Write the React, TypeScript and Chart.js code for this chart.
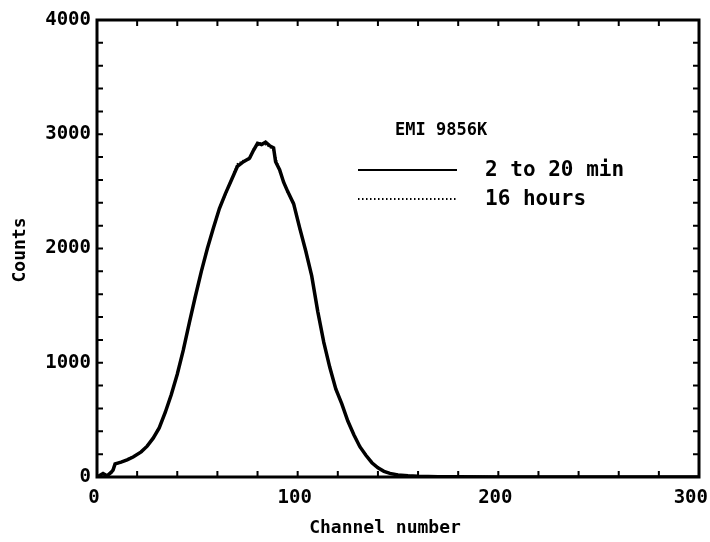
import React, { useEffect, useRef } from "react";
import { Chart, registerables } from "chart.js";

Chart.register(...registerables);

const channels = [0, 3, 5, 7, 8, 9, 12, 15, 18, 22, 25, 28, 31, 34, 37, 40, 43, 46, 49, 52, 55, 58, 61, 64, 67, 70, 73, 76, 78, 80, 82, 84, 86, 88, 89, 91, 93, 95, 98, 101, 104, 107, 110, 113, 116, 119, 122, 125, 128, 131, 134, 137, 140, 143, 146, 150, 155, 160, 170, 180, 200, 250, 300];
const shortRunCounts = [0, 30, 10, 40, 60, 115, 130, 150, 175, 220, 270, 340, 430, 565, 720, 900, 1110, 1350, 1580, 1800, 2000, 2180, 2350, 2480, 2600, 2720, 2760, 2790, 2860, 2920, 2910, 2930, 2900, 2880, 2760, 2690, 2580, 2500, 2390, 2180, 1980, 1760, 1450, 1180, 960, 770, 640, 490, 370, 265, 190, 125, 80, 50, 32, 18, 10, 6, 3, 2, 1, 0, 0];
const longRunCounts = [0, 20, 15, 30, 70, 110, 125, 155, 180, 215, 275, 335, 440, 555, 730, 890, 1120, 1340, 1590, 1790, 2010, 2170, 2360, 2470, 2610, 2740, 2770, 2780, 2870, 2900, 2930, 2910, 2890, 2860, 2800, 2670, 2590, 2490, 2400, 2170, 1990, 1750, 1460, 1170, 970, 760, 650, 480, 380, 260, 195, 120, 85, 48, 30, 20, 12, 7, 4, 2, 1, 0, 0];

const xTickValues = [0, 20, 40, 60, 80, 100, 120, 140, 160, 180, 200, 220, 240, 260, 280, 300];
const xTickLabels = ["0", "", "", "", "", "100", "", "", "", "", "200", "", "", "", "", "300"];
const yTickValues = [0, 200, 400, 600, 800, 1000, 1200, 1400, 1600, 1800, 2000, 2200, 2400, 2600, 2800, 3000, 3200, 3400, 3600, 3800, 4000];
const yTickLabels = ["0", "", "", "", "", "1000", "", "", "", "", "2000", "", "", "", "", "3000", "", "", "", "", "4000"];

const legendTitle = "EMI 9856K";
const seriesNames = ["2 to 20 min", "16 hours"];
const xTitle = "Channel number";
const yTitle = "Counts";

const FONT = "'DejaVu Sans Mono', monospace";

const framePlugin = {
  id: "frame",
  afterDraw(chart: any) {
    const ctx = chart.ctx as CanvasRenderingContext2D;
    const { left, right, top, bottom } = chart.chartArea;
    const xs = chart.scales.x;
    const ys = chart.scales.y;
    ctx.save();
    ctx.strokeStyle = "#000";
    ctx.fillStyle = "#000";
    ctx.lineWidth = 3;
    ctx.strokeRect(left, top, right - left, bottom - top);
    ctx.lineWidth = 2;
    const tl = 6;
    xTickValues.forEach((v) => {
      const px = xs.getPixelForValue(v);
      ctx.beginPath();
      ctx.moveTo(px, bottom);
      ctx.lineTo(px, bottom - tl);
      ctx.moveTo(px, top);
      ctx.lineTo(px, top + tl);
      ctx.stroke();
    });
    yTickValues.forEach((v) => {
      const py = ys.getPixelForValue(v);
      ctx.beginPath();
      ctx.moveTo(left, py);
      ctx.lineTo(left + tl, py);
      ctx.moveTo(right, py);
      ctx.lineTo(right - tl, py);
      ctx.stroke();
    });
    ctx.font = `bold 19px ${FONT}`;
    ctx.textBaseline = "middle";
    xTickValues.forEach((v, i) => {
      const lab = xTickLabels[i];
      if (!lab) return;
      const px = xs.getPixelForValue(v);
      if (i === xTickValues.length - 1) {
        ctx.textAlign = "right";
        ctx.fillText(lab, Math.min(px + 9, 708), bottom + 21);
      } else {
        ctx.textAlign = "center";
        ctx.fillText(lab, px - 3, bottom + 21);
      }
    });
    ctx.textAlign = "right";
    yTickValues.forEach((v, i) => {
      const lab = yTickLabels[i];
      if (!lab) return;
      ctx.fillText(lab, left - 6, ys.getPixelForValue(v));
    });
    ctx.font = `bold 18px ${FONT}`;
    ctx.textAlign = "center";
    ctx.fillText(xTitle, 385, 528);
    ctx.save();
    ctx.translate(20, 250);
    ctx.rotate(-Math.PI / 2);
    ctx.fillText(yTitle, 0, 0);
    ctx.restore();
    ctx.textAlign = "left";
    ctx.font = `bold 17px ${FONT}`;
    ctx.fillText(legendTitle, 395, 131);
    ctx.font = `bold 21px ${FONT}`;
    ctx.fillText(seriesNames[0], 485, 171);
    ctx.fillText(seriesNames[1], 485, 200);
    ctx.lineWidth = 2;
    ctx.beginPath();
    ctx.moveTo(358, 170);
    ctx.lineTo(457, 170);
    ctx.stroke();
    ctx.setLineDash([1.5, 2.5]);
    ctx.beginPath();
    ctx.moveTo(358, 199);
    ctx.lineTo(458, 199);
    ctx.stroke();
    ctx.restore();
  },
};

export default function App() {
  const ref = useRef<HTMLCanvasElement | null>(null);
  useEffect(() => {
    if (!ref.current) return;
    const chart = new Chart(ref.current, {
      type: "line",
      data: {
        datasets: [
          {
            label: seriesNames[0],
            data: channels.map((c, i) => ({ x: c, y: shortRunCounts[i] })),
            borderColor: "#000",
            borderWidth: 3.5,
            pointRadius: 0,
            tension: 0,
          },
          {
            label: seriesNames[1],
            data: channels.map((c, i) => ({ x: c, y: longRunCounts[i] })),
            borderColor: "#000",
            borderWidth: 2,
            borderDash: [1, 2],
            pointRadius: 0,
            tension: 0,
          },
        ],
      },
      options: {
        animation: false,
        responsive: false,
        maintainAspectRatio: false,
        layout: { padding: { left: 97, top: 20, right: 11, bottom: 65 } },
        plugins: { legend: { display: false }, tooltip: { enabled: false } },
        scales: {
          x: { type: "linear", min: 0, max: 300, display: false },
          y: { type: "linear", min: 0, max: 4000, display: false },
        },
      },
      plugins: [framePlugin],
    });
    return () => chart.destroy();
  }, []);
  return (
    <div style={{ position: "fixed", left: 0, top: 0, width: 710, height: 542, background: "#fff" }}>
      <canvas ref={ref} width={710} height={542} style={{ width: 710, height: 542 }} />
    </div>
  );
}
